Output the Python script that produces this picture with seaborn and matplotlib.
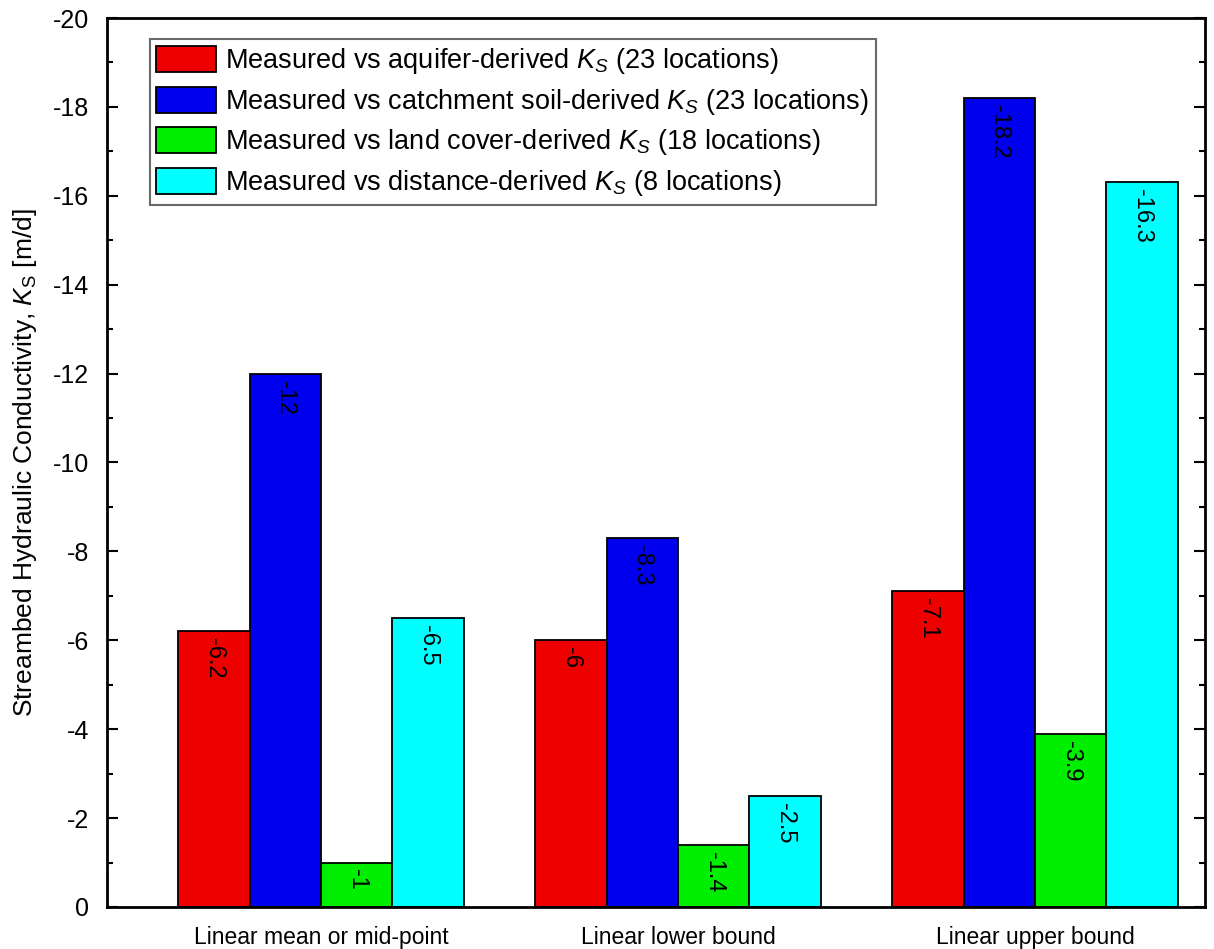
import matplotlib
matplotlib.use("Agg")
import matplotlib.pyplot as plt
import seaborn as sns
import pandas as pd
from matplotlib.ticker import MultipleLocator

# ---- data ----
categories = ["Linear mean or mid-point", "Linear lower bound", "Linear upper bound"]
series_names = [
    r"Measured vs aquifer-derived $K_S$ (23 locations)",
    r"Measured vs catchment soil-derived $K_S$ (23 locations)",
    r"Measured vs land cover-derived $K_S$ (18 locations)",
    r"Measured vs distance-derived $K_S$ (8 locations)",
]
aquifer = [-6.2, -6.0, -7.1]
catchment = [-12.0, -8.3, -18.2]
landcover = [-1.0, -1.4, -3.9]
distance = [-6.5, -2.5, -16.3]
value_labels = [["-6.2", "-6", "-7.1"], ["-12", "-8.3", "-18.2"],
                ["-1", "-1.4", "-3.9"], ["-6.5", "-2.5", "-16.3"]]
colors = ["#ee0000", "#0000ee", "#00ee00", "#00ffff"]

series_values = [aquifer, catchment, landcover, distance]
rows = []
for name, vals in zip(series_names, series_values):
    for cat, v in zip(categories, vals):
        rows.append({"category": cat, "series": name, "value": v})
df = pd.DataFrame(rows)

sns.set_style("white")
plt.rcParams["font.family"] = ["Liberation Sans", "DejaVu Sans"]
plt.rcParams["mathtext.fontset"] = "custom"
plt.rcParams["mathtext.rm"] = "Liberation Sans"
plt.rcParams["mathtext.it"] = "Liberation Sans:italic"
plt.rcParams["axes.unicode_minus"] = False
for k in ["text.color", "axes.labelcolor", "xtick.color", "ytick.color"]:
    plt.rcParams[k] = "black"

fig = plt.figure(figsize=(12.14, 9.49), dpi=100)
ax = fig.add_axes([0.088, 0.0443, 0.9046, 0.9367])

sns.barplot(data=df, x="category", y="value", hue="series", order=categories,
            hue_order=series_names, palette=colors, width=0.8, saturation=1,
            edgecolor="black", linewidth=1.3, ax=ax, errorbar=None)

ax.set_ylim(0, -20)
ax.set_xlim(-0.6, 2.476)
ax.yaxis.set_major_locator(MultipleLocator(2))
ax.yaxis.set_minor_locator(MultipleLocator(1))
ax.tick_params(axis="y", which="both", direction="in", left=True, right=True,
               labelsize=18, width=1.5, pad=13)
ax.tick_params(axis="y", which="major", length=8)
ax.tick_params(axis="y", which="minor", length=4)
ax.tick_params(axis="x", bottom=False, labelsize=16.5, pad=10)
for s in ax.spines.values():
    s.set_linewidth(2)
    s.set_color("black")

ax.set_xlabel("")
ax.set_ylabel(r"Streambed Hydraulic Conductivity, $K_\mathrm{S}$ [m/d]",
              fontsize=19, labelpad=10)

# value labels
for si, cont in enumerate(ax.containers):
    for bi, bar in enumerate(cont):
        x = bar.get_x() + bar.get_width() / 2
        y = series_values[si][bi]
        ax.annotate(value_labels[si][bi], (x, y), xytext=(0, -5),
                    textcoords="offset points", rotation=270,
                    ha="center", va="top", fontsize=17)

leg = ax.legend(loc="upper left", bbox_to_anchor=(0.039, 0.976), fontsize=19.5,
                frameon=True, fancybox=False, edgecolor="#444444",
                handlelength=2.2, handleheight=1.1, labelspacing=0.38,
                handletextpad=0.35, borderpad=0.25, borderaxespad=0)
leg.get_frame().set_linewidth(1.5)

fig.savefig("out.png", dpi=100)
